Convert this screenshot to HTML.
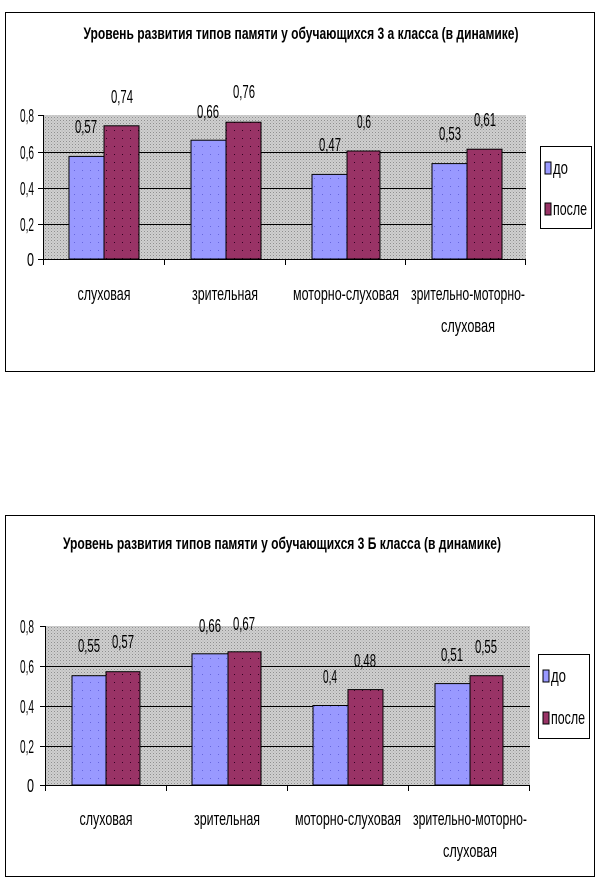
<!DOCTYPE html>
<html><head><meta charset="utf-8"><style>
html,body{margin:0;padding:0;background:#fff;}
svg{display:block;}
text{font-family:"Liberation Sans",sans-serif;fill:#000;}
</style></head><body>
<svg width="600" height="888" viewBox="0 0 600 888" xmlns="http://www.w3.org/2000/svg">
<defs>
<pattern id="g" width="3" height="3" patternUnits="userSpaceOnUse"><rect width="3" height="3" fill="#cfcfcf"/><rect width="1" height="1" fill="#8f8f8f"/><rect x="1.5" y="1.5" width="1" height="1" fill="#aaaaaa"/></pattern>
<pattern id="b" width="8" height="8" patternUnits="userSpaceOnUse"><rect width="8" height="8" fill="#9999ff"/><rect x="2" y="2" width="1" height="1" fill="#6666dd"/></pattern>
<pattern id="r" width="8" height="8" patternUnits="userSpaceOnUse"><rect width="8" height="8" fill="#993366"/><rect x="2" y="2" width="1" height="1" fill="#330022"/></pattern>
</defs>

<!-- Chart 1 -->
<rect x="5.5" y="12.5" width="589" height="359" fill="#fff" stroke="#000"/>
<text x="301" y="39" font-size="17" font-weight="bold" text-anchor="middle" textLength="435" lengthAdjust="spacingAndGlyphs">Уровень развития типов памяти у обучающихся 3 а класса (в динамике)</text>
<rect x="43" y="115" width="483" height="144" fill="url(#g)"/>
<g stroke="#000" stroke-width="1">
<line x1="43" y1="152.5" x2="526" y2="152.5"/><line x1="43" y1="188.5" x2="526" y2="188.5"/><line x1="43" y1="224.5" x2="526" y2="224.5"/>
<line x1="43.5" y1="115" x2="43.5" y2="265"/><line x1="43" y1="259.5" x2="526" y2="259.5"/>
<line x1="38" y1="115.5" x2="43" y2="115.5"/><line x1="38" y1="152.5" x2="43" y2="152.5"/><line x1="38" y1="188.5" x2="43" y2="188.5"/><line x1="38" y1="224.5" x2="43" y2="224.5"/><line x1="38" y1="259.5" x2="43" y2="259.5"/>
<line x1="164.5" y1="259" x2="164.5" y2="265"/><line x1="285.5" y1="259" x2="285.5" y2="265"/><line x1="405.5" y1="259" x2="405.5" y2="265"/><line x1="525.5" y1="259" x2="525.5" y2="265"/>
</g>
<g stroke="#000" stroke-width="1">
<rect x="69" y="156.4" width="35" height="102.6" fill="url(#b)"/>
<rect x="104" y="125.8" width="35" height="133.2" fill="url(#r)"/>
<rect x="191" y="140.2" width="35" height="118.8" fill="url(#b)"/>
<rect x="226" y="122.2" width="35" height="136.8" fill="url(#r)"/>
<rect x="312" y="174.4" width="35" height="84.6" fill="url(#b)"/>
<rect x="347" y="151" width="33" height="108" fill="url(#r)"/>
<rect x="432" y="163.6" width="35" height="95.4" fill="url(#b)"/>
<rect x="467" y="149.2" width="35" height="109.8" fill="url(#r)"/>
</g>
<g font-size="18" text-anchor="end">
<text x="34" y="122" textLength="14" lengthAdjust="spacingAndGlyphs">0,8</text>
<text x="34" y="159" textLength="14" lengthAdjust="spacingAndGlyphs">0,6</text>
<text x="34" y="195" textLength="14" lengthAdjust="spacingAndGlyphs">0,4</text>
<text x="34" y="231" textLength="14" lengthAdjust="spacingAndGlyphs">0,2</text>
<text x="34" y="266" textLength="7" lengthAdjust="spacingAndGlyphs">0</text>
</g>
<g font-size="18" text-anchor="middle">
<text x="86" y="133" textLength="22" lengthAdjust="spacingAndGlyphs">0,57</text>
<text x="122" y="103" textLength="22" lengthAdjust="spacingAndGlyphs">0,74</text>
<text x="208" y="118" textLength="22" lengthAdjust="spacingAndGlyphs">0,66</text>
<text x="244" y="98" textLength="22" lengthAdjust="spacingAndGlyphs">0,76</text>
<text x="330" y="151" textLength="22" lengthAdjust="spacingAndGlyphs">0,47</text>
<text x="364" y="128" textLength="14" lengthAdjust="spacingAndGlyphs">0,6</text>
<text x="450" y="140" textLength="22" lengthAdjust="spacingAndGlyphs">0,53</text>
<text x="485" y="126" textLength="22" lengthAdjust="spacingAndGlyphs">0,61</text>
<text x="104" y="300" textLength="53" lengthAdjust="spacingAndGlyphs">слуховая</text>
<text x="225" y="300" textLength="66" lengthAdjust="spacingAndGlyphs">зрительная</text>
<text x="346" y="300" textLength="106" lengthAdjust="spacingAndGlyphs">моторно-слуховая</text>
<text x="468" y="300" textLength="114" lengthAdjust="spacingAndGlyphs">зрительно-моторно-</text>
<text x="468" y="332" textLength="54" lengthAdjust="spacingAndGlyphs">слуховая</text>
</g>
<rect x="540.5" y="146.5" width="51" height="82" fill="#fff" stroke="#000"/>
<rect x="545" y="162" width="6" height="12" fill="#9999ff" stroke="#000"/>
<rect x="545" y="203" width="6" height="12" fill="#993366" stroke="#000"/>
<text x="553" y="174" font-size="18" textLength="15" lengthAdjust="spacingAndGlyphs">до</text>
<text x="553" y="215" font-size="18" textLength="34" lengthAdjust="spacingAndGlyphs">после</text>

<!-- Chart 2 -->
<rect x="5.5" y="515.5" width="589" height="361" fill="#fff" stroke="#000"/>
<text x="282" y="549" font-size="17" font-weight="bold" text-anchor="middle" textLength="438" lengthAdjust="spacingAndGlyphs">Уровень развития типов памяти у обучающихся 3 Б класса (в динамике)</text>
<rect x="45" y="626" width="485" height="159" fill="url(#g)"/>
<g stroke="#000" stroke-width="1">
<line x1="45" y1="666.5" x2="530" y2="666.5"/><line x1="45" y1="706.5" x2="530" y2="706.5"/><line x1="45" y1="746.5" x2="530" y2="746.5"/>
<line x1="45.5" y1="626" x2="45.5" y2="791"/><line x1="45" y1="785.5" x2="530" y2="785.5"/>
<line x1="40" y1="626.5" x2="45" y2="626.5"/><line x1="40" y1="666.5" x2="45" y2="666.5"/><line x1="40" y1="706.5" x2="45" y2="706.5"/><line x1="40" y1="746.5" x2="45" y2="746.5"/><line x1="40" y1="785.5" x2="45" y2="785.5"/>
<line x1="166.5" y1="785" x2="166.5" y2="791"/><line x1="287.5" y1="785" x2="287.5" y2="791"/><line x1="408.5" y1="785" x2="408.5" y2="791"/><line x1="529.5" y1="785" x2="529.5" y2="791"/>
</g>
<g stroke="#000" stroke-width="1">
<rect x="72" y="675.7" width="34" height="109.3" fill="url(#b)"/>
<rect x="106" y="671.7" width="34" height="113.3" fill="url(#r)"/>
<rect x="192" y="653.8" width="36" height="131.2" fill="url(#b)"/>
<rect x="228" y="651.8" width="33" height="133.2" fill="url(#r)"/>
<rect x="313" y="705.5" width="35" height="79.5" fill="url(#b)"/>
<rect x="348" y="689.6" width="35" height="95.4" fill="url(#r)"/>
<rect x="435" y="683.6" width="35" height="101.4" fill="url(#b)"/>
<rect x="470" y="675.7" width="33" height="109.3" fill="url(#r)"/>
</g>
<g font-size="18" text-anchor="end">
<text x="34" y="633" textLength="14" lengthAdjust="spacingAndGlyphs">0,8</text>
<text x="34" y="673" textLength="14" lengthAdjust="spacingAndGlyphs">0,6</text>
<text x="34" y="713" textLength="14" lengthAdjust="spacingAndGlyphs">0,4</text>
<text x="34" y="753" textLength="14" lengthAdjust="spacingAndGlyphs">0,2</text>
<text x="34" y="792" textLength="7" lengthAdjust="spacingAndGlyphs">0</text>
</g>
<g font-size="18" text-anchor="middle">
<text x="89" y="652" textLength="22" lengthAdjust="spacingAndGlyphs">0,55</text>
<text x="123" y="648" textLength="22" lengthAdjust="spacingAndGlyphs">0,57</text>
<text x="210" y="632" textLength="22" lengthAdjust="spacingAndGlyphs">0,66</text>
<text x="244" y="630" textLength="22" lengthAdjust="spacingAndGlyphs">0,67</text>
<text x="330" y="683" textLength="14" lengthAdjust="spacingAndGlyphs">0,4</text>
<text x="365" y="667" textLength="22" lengthAdjust="spacingAndGlyphs">0,48</text>
<text x="452" y="661" textLength="22" lengthAdjust="spacingAndGlyphs">0,51</text>
<text x="486" y="653" textLength="22" lengthAdjust="spacingAndGlyphs">0,55</text>
<text x="106" y="825" textLength="53" lengthAdjust="spacingAndGlyphs">слуховая</text>
<text x="227" y="825" textLength="66" lengthAdjust="spacingAndGlyphs">зрительная</text>
<text x="348" y="825" textLength="106" lengthAdjust="spacingAndGlyphs">моторно-слуховая</text>
<text x="470" y="825" textLength="114" lengthAdjust="spacingAndGlyphs">зрительно-моторно-</text>
<text x="470" y="857" textLength="54" lengthAdjust="spacingAndGlyphs">слуховая</text>
</g>
<rect x="538.5" y="654.5" width="51" height="84" fill="#fff" stroke="#000"/>
<rect x="543" y="670" width="6" height="12" fill="#9999ff" stroke="#000"/>
<rect x="543" y="712" width="6" height="12" fill="#993366" stroke="#000"/>
<text x="551" y="682" font-size="18" textLength="15" lengthAdjust="spacingAndGlyphs">до</text>
<text x="551" y="724" font-size="18" textLength="34" lengthAdjust="spacingAndGlyphs">после</text>
</svg>
</body></html>
